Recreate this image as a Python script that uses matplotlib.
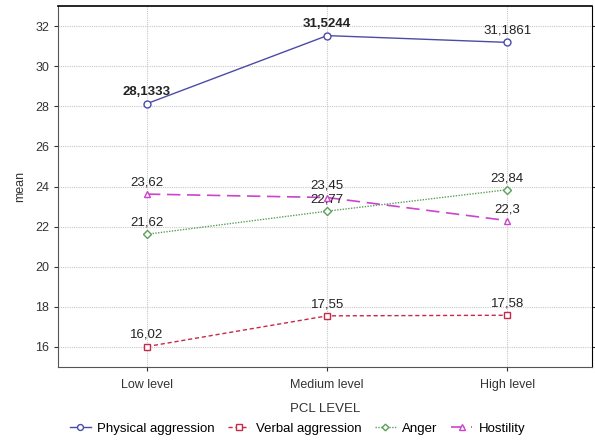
import matplotlib.pyplot as plt

levels = ['Low level', 'Medium level', 'High level']
physical = [28.1333, 31.5244, 31.1861]
verbal = [16.02, 17.55, 17.58]
anger = [21.62, 22.77, 23.84]
hostility = [23.62, 23.45, 22.3]

physical_labels = ['28,1333', '31,5244', '31,1861']
physical_bold = [True, True, False]
verbal_labels = ['16,02', '17,55', '17,58']
anger_labels = ['21,62', '22,77', '23,84']
hostility_labels = ['23,62', '23,45', '22,3']

plt.rcParams['font.family'] = ['Liberation Sans', 'DejaVu Sans']

fig = plt.figure(figsize=(5.95, 4.42), dpi=100)
ax = fig.add_axes([0.0975, 0.1697, 0.8975, 0.8167])

x = list(range(len(levels)))

ax.plot(x, physical, color='#4b4ba8', lw=1, marker='o', ms=5, mfc='white', mec='#4b4ba8',
        label='Physical aggression', zorder=3)
ax.plot(x, verbal, color='#c8284a', lw=1, ls=(0, (3, 2)), marker='s', ms=5, mfc='white',
        mec='#c8284a', label='Verbal aggression', zorder=3)
ax.plot(x, anger, color='#5aa05a', lw=1, ls=(0, (1, 1)), marker='D', ms=4, mfc='white',
        mec='#5aa05a', label='Anger', zorder=3)
ax.plot(x, hostility, color='#cc44cc', lw=1.2, ls=(0, (8, 4)), marker='^', ms=5, mfc='white',
        mec='#cc44cc', label='Hostility', zorder=3)

for xi, v, t, b in zip(x, physical, physical_labels, physical_bold):
    ax.annotate(t, (xi, v), xytext=(0, 4), textcoords='offset points', ha='center',
                va='bottom', fontsize=9.5, fontweight='bold' if b else 'normal', color='#222222')
for series, labels in [(verbal, verbal_labels), (anger, anger_labels), (hostility, hostility_labels)]:
    for xi, v, t in zip(x, series, labels):
        ax.annotate(t, (xi, v), xytext=(0, 4), textcoords='offset points', ha='center',
                    va='bottom', fontsize=9.5, color='#222222')

ax.set_xlim(-0.494, 2.47)
ax.set_ylim(15, 33)
ax.set_yticks(range(16, 33, 2))
ax.set_xticks(x)
ax.set_xticklabels(levels)
ax.tick_params(axis='both', labelsize=9, colors='#333333', length=3)
ax.tick_params(axis='x', pad=6)
ax.tick_params(axis='y', right=True, direction='out')
ax.grid(True, color='#c8c8c8', ls=(0, (1, 1)), lw=0.8)
ax.set_axisbelow(True)

for s in ['left', 'bottom']:
    ax.spines[s].set_color('#555555')
ax.spines['top'].set_color('black')
ax.spines['top'].set_linewidth(1.2)

ax.set_xlabel('PCL LEVEL', fontsize=9.5, color='#333333', labelpad=8)
ax.set_ylabel('mean', fontsize=9, color='#333333', labelpad=6)

fig.legend(loc='lower center', bbox_to_anchor=(0.5, -0.01), ncol=4, frameon=False, fontsize=9.5,
           handlelength=1.6, handletextpad=0.5, columnspacing=1.0, markerscale=0.85)

fig.savefig('out.png', dpi=100)
